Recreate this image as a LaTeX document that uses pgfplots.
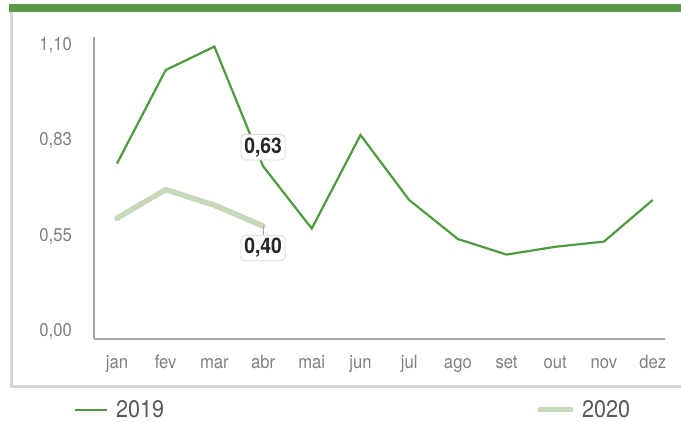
\documentclass[border=0pt]{standalone}
\usepackage{fontspec}
\setmainfont{TeX Gyre Heros}[FakeStretch=0.9]
\usepackage{pgfplots}
\usepackage{pgfplotstable}
\pgfplotsset{compat=1.18}

\definecolor{verde}{HTML}{4F9A3F}
\definecolor{verdeclaro}{HTML}{C6D9BB}
\definecolor{barra}{HTML}{5B9A4B}
\definecolor{eixo}{HTML}{A6A6A6}
\definecolor{moldura}{HTML}{D6D6D6}
\definecolor{rotulo}{HTML}{808080}
\definecolor{legenda}{HTML}{595959}

% mes: 0 = jan ... 11 = dez
\pgfplotstableread{
mes v
0  0.64
1  1.00
2  1.09
3  0.63
4  0.39
5  0.75
6  0.50
7  0.35
8  0.29
9  0.32
10 0.34
11 0.50
}\dadosUm

\pgfplotstableread{
mes v
0 0.43
1 0.54
2 0.48
3 0.40
}\dadosDois

\begin{document}
\begin{tikzpicture}
\useasboundingbox (0,0) rectangle (681pt,422pt);
% moldura
\fill[barra] (9pt,409.5pt) rectangle (681pt,418pt);
\draw[moldura, line width=3pt] (11.5pt,409.5pt) -- (11.5pt,34pt);
\draw[moldura, line width=3pt] (10pt,35.5pt) -- (681pt,35.5pt);

\begin{axis}[
  at={(94pt,83pt)}, anchor=south west,
  scale only axis, width=571pt, height=302pt,
  xmin=-0.472, xmax=11.253, ymin=-0.0346, ymax=1.127,
  axis x line=bottom, axis y line=left,
  axis line style={eixo, line width=1.5pt, -},
  xtick={0,...,11},
  xticklabels={jan,fev,mar,abr,mai,jun,jul,ago,set,out,nov,dez},
  ytick={0,0.366667,0.733333,1.1},
  yticklabels={{0,00},{0,55},{0,83},{1,10}},
  major tick length=0pt,
  tick label style={font=\fontsize{18.5}{21}\selectfont, text=rotulo, inner sep=0pt},
  xticklabel style={anchor=base, yshift=-29.5pt},
  yticklabel style={anchor=base east, xshift=-22pt, yshift=-6.5pt},
  clip=false,
]
\addplot[verdeclaro, line width=5.5pt, line cap=round, line join=round]
  table[x=mes, y=v] {\dadosDois};
\addplot[verde, line width=2.2pt]
  table[x=mes, y=v] {\dadosUm};

% rotulos de dados
\draw[eixo, line width=0.8pt] (axis cs:3,0.40) -- ++(0pt,-9.5pt);
\node[draw=moldura, line width=0.8pt, fill=white, rounded corners=4pt,
      font=\bfseries\fontsize{21.5}{23}\selectfont, text=black!85,
      minimum width=44pt, minimum height=25.6pt, inner sep=0pt]
  at ([yshift=-22pt]axis cs:3,0.40) {0,40};
\node[draw=moldura, line width=0.8pt, fill=white, rounded corners=4pt,
      font=\bfseries\fontsize{21.5}{23}\selectfont, text=black!85,
      minimum width=44pt, minimum height=25.6pt, inner sep=0pt]
  at ([yshift=19pt]axis cs:3,0.63) {0,63};
\end{axis}

% legenda
\draw[verde, line width=2pt] (75pt,12pt) -- (107pt,12pt);
\node[anchor=base west, inner sep=0pt, font=\fontsize{24}{26}\selectfont, text=legenda]
  at (116pt,4pt) {2019};
\draw[verdeclaro, line width=5pt, line cap=round] (540pt,12pt) -- (571pt,12pt);
\node[anchor=base west, inner sep=0pt, font=\fontsize{24}{26}\selectfont, text=legenda]
  at (582pt,4pt) {2020};
\end{tikzpicture}
\end{document}
